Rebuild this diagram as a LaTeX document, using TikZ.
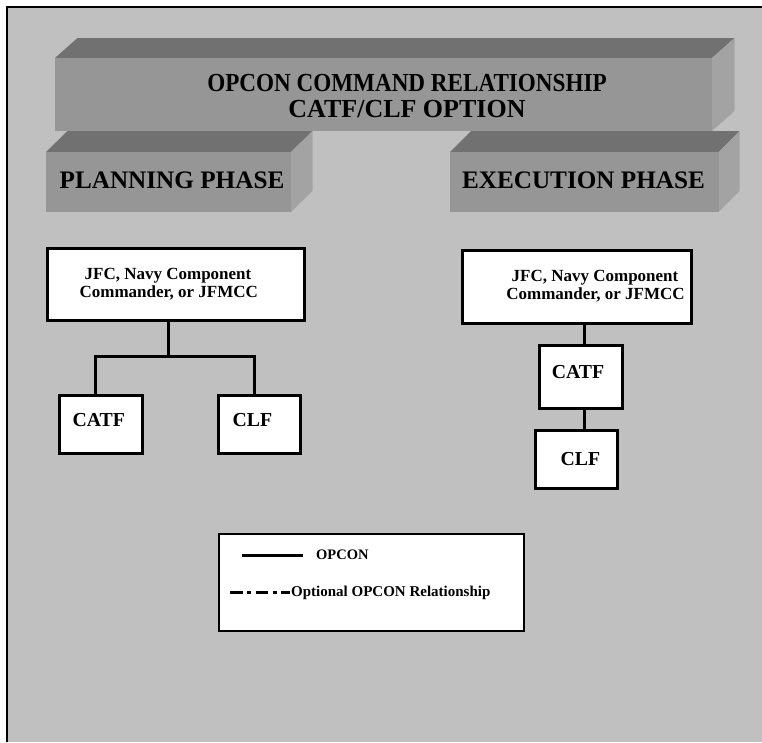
\documentclass[tikz,border=0pt]{standalone}
\usepackage{fontspec}
\setmainfont{Liberation Serif}
\definecolor{bggray}{HTML}{C0C0C0}
\definecolor{slabfront}{HTML}{969696}
\definecolor{slabtop}{HTML}{717171}
\definecolor{slabside}{HTML}{A3A3A3}
\newcommand\slabbox[6]{%
  \fill[slabtop] (#1,#2) -- ++(#5,-#6) -- (#3+#5,#2-#6) -- (#3,#2) -- cycle;
  \fill[slabside] (#3,#2) -- ++(#5,-#6) -- (#3+#5,#4-#6) -- (#3,#4) -- cycle;
  \fill[slabfront] (#1,#2) rectangle (#3,#4);
}
\tikzset{
  orgbox/.style={draw=black, line width=2pt, fill=white, inner sep=0pt, anchor=north west},
  lbl/.style={inner sep=0pt, anchor=base, font=\bfseries},
  conn/.style={line width=3pt, line cap=rect},
}
\begin{document}
\begin{tikzpicture}[x=1pt,y=-1pt]
\useasboundingbox (0,0) rectangle (762,742);
\fill[white] (0,0) rectangle (762,742);
\fill[bggray] (7,7) rectangle (762,742);
\draw[line width=1.6pt] (7,742) -- (7,7) -- (762,7);

% 3D title slabs
\slabbox{55}{58}{712}{131}{22.5}{20}
\slabbox{46}{152}{291}{212}{21.5}{21}
\slabbox{450}{152}{718.7}{212}{21}{21}

\node[lbl, font=\fontsize{26}{30}\selectfont\bfseries, xscale=0.89] (t1) at (407,91.5) {OPCON COMMAND RELATIONSHIP};
\node[lbl, font=\fontsize{26}{30}\selectfont\bfseries] (t2) at (407,117) {CATF/CLF OPTION};
\node[lbl, font=\fontsize{25.2}{28}\selectfont\bfseries] (plan) at (172,188.5) {PLANNING PHASE};
\node[lbl, font=\fontsize{25.2}{28}\selectfont\bfseries] (exec) at (583.5,188.5) {EXECUTION PHASE};

% Planning phase boxes
\node[orgbox, minimum width=256pt, minimum height=71pt] (jfcL) at (47,248) {};
\node[orgbox, minimum width=82.5pt, minimum height=57pt] (catfL) at (58.5,395) {};
\node[orgbox, minimum width=81pt, minimum height=57pt] (clfL) at (217.5,395) {};

% Execution phase boxes
\node[orgbox, minimum width=228.5pt, minimum height=72pt] (jfcR) at (461.7,250) {};
\node[orgbox, minimum width=82.3pt, minimum height=62pt] (catfR) at (538.7,345) {};
\node[orgbox, minimum width=80.7pt, minimum height=57pt] (clfR) at (535,430) {};

% Box labels
\node[lbl, font=\fontsize{17}{19}\selectfont\bfseries] (jL1) at (168,279.5) {JFC, Navy Component};
\node[lbl, font=\fontsize{17}{19}\selectfont\bfseries] (jL2) at (168.8,297.5) {Commander, or JFMCC};
\node[lbl, font=\fontsize{17}{19}\selectfont\bfseries] (jR1) at (595,281.5) {JFC, Navy Component};
\node[lbl, font=\fontsize{17}{19}\selectfont\bfseries] (jR2) at (595.5,299.5) {Commander, or JFMCC};
\node[lbl, font=\fontsize{19.8}{22}\selectfont\bfseries] (cL) at (98.8,426.5) {CATF};
\node[lbl, font=\fontsize{19.8}{22}\selectfont\bfseries] (lL) at (252.5,426.5) {CLF};
\node[lbl, font=\fontsize{19.8}{22}\selectfont\bfseries] (cR) at (578,378.5) {CATF};
\node[lbl, font=\fontsize{19.8}{22}\selectfont\bfseries] (lR) at (580.3,465.5) {CLF};

% Connectors
\coordinate (busL) at (168.3,356);
\coordinate (busA) at (95.3,356);
\coordinate (busB) at (254.3,356);
\coordinate (colR) at (584.3,400);
\draw[conn] (jfcL.south -| busL) -- (busL);
\draw[conn] (catfL.north -| busA) |- (busB) -- (clfL.north -| busB);
\draw[conn] (jfcR.south -| colR) -- (catfR.north -| colR);
\draw[conn] (catfR.south -| colR) -- (clfR.north -| colR);
% redraw box outlines over connector ends
\foreach \b in {jfcL,catfL,clfL,jfcR,catfR,clfR}{
  \draw[line width=2pt] (\b.north west) rectangle (\b.south east);
}

% Legend
\node[orgbox, minimum width=304.5pt, minimum height=97pt] (legend) at (218.3,533) {};
\coordinate (s1) at (242.3,555.7);
\coordinate (s2) at (303.3,555.7);
\draw[line width=2.7pt] (s1) -- (s2);
\node[lbl, anchor=base west, font=\fontsize{14.5}{16}\selectfont\bfseries] (lg1) at (316,559) {OPCON};
\coordinate (d1) at (230,592.3);
\coordinate (d2) at (290,592.3);
\draw[line width=2.7pt, dash pattern=on 12.7pt off 4.5pt on 3.8pt off 4.5pt] (d1) -- (d2);
\node[lbl, anchor=base west, font=\fontsize{15}{17}\selectfont\bfseries] (lg2) at (291,596.5) {Optional OPCON Relationship};
\end{tikzpicture}
\end{document}
